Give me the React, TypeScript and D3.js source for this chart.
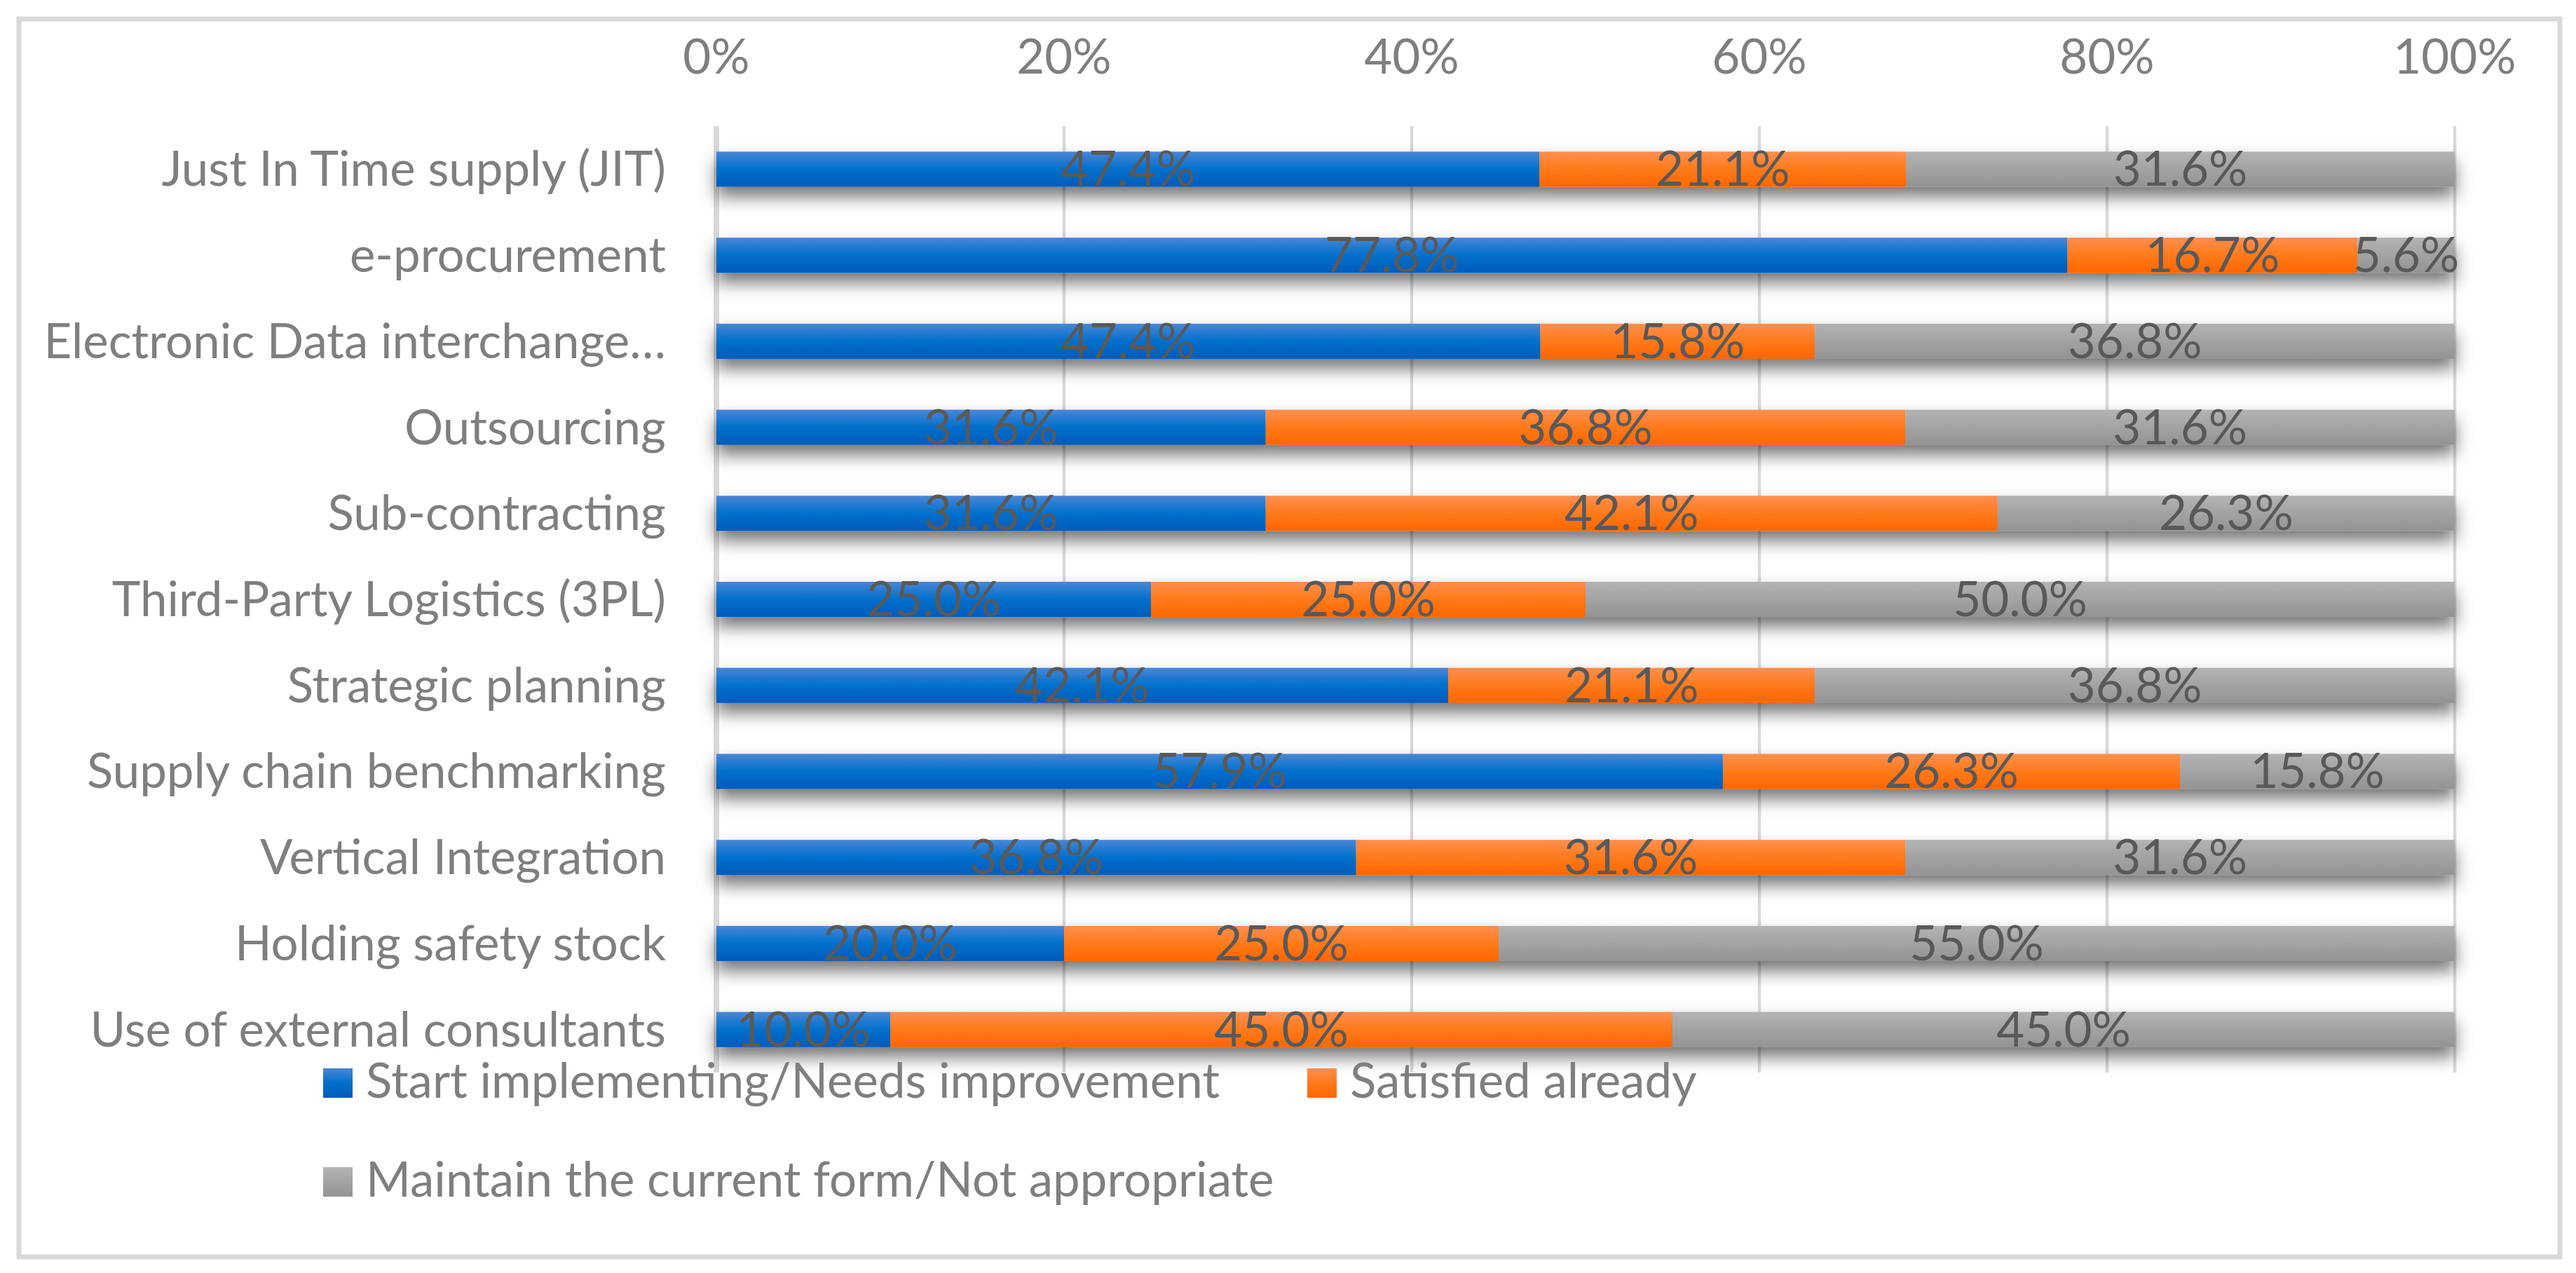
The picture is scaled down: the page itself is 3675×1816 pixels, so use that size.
import React, { useEffect, useRef } from 'react';
import * as d3 from 'd3';

const categories = [
  'Just In Time supply (JIT)',
  'e-procurement',
  'Electronic Data interchange…',
  'Outsourcing',
  'Sub-contracting',
  'Third-Party Logistics (3PL)',
  'Strategic planning',
  'Supply chain benchmarking',
  'Vertical Integration',
  'Holding safety stock',
  'Use of external consultants'
];

const startImplementing = [47.4, 77.8, 47.4, 31.6, 31.6, 25.0, 42.1, 57.9, 36.8, 20.0, 10.0];
const satisfiedAlready = [21.1, 16.7, 15.8, 36.8, 42.1, 25.0, 21.1, 26.3, 31.6, 25.0, 45.0];
const maintainCurrent = [31.6, 5.6, 36.8, 31.6, 26.3, 50.0, 36.8, 15.8, 31.6, 55.0, 45.0];

const seriesNames = [
  'Start implementing/Needs improvement',
  'Satisfied already',
  'Maintain the current form/Not appropriate'
];

const xTicks = [0, 0.2, 0.4, 0.6, 0.8, 1];

const W = 3675;
const H = 1816;
const FONT = 'Lato, "Open Sans", sans-serif';
const FS = 69;

// gradient stops per series: light top, base, darker bottom
const palettes = [
  ['#4a86d6', '#0070cc', '#005bbb'],
  ['#ff8f4f', '#ff7a1a', '#ff6600'],
  ['#b3b3b3', '#a3a3a3', '#939393']
];

const App: React.FC = () => {
  const svgRef = useRef<SVGSVGElement>(null);

  useEffect(() => {
    if (!svgRef.current) return;
    const svg = d3.select(svgRef.current);
    svg.selectAll('*').remove();

    const rows = categories.map((name, i) => ({
      name,
      s0: startImplementing[i],
      s1: satisfiedAlready[i],
      s2: maintainCurrent[i]
    }));

    const stack = d3.stack<any>()
      .keys(['s0', 's1', 's2'])
      .offset(d3.stackOffsetExpand);
    const layers = stack(rows);

    const x = d3.scaleLinear().domain([0, 1]).range([1022, 3502]);
    const y = d3.scaleBand<string>()
      .domain(categories)
      .range([180, 1530])
      .paddingInner(0.592)
      .paddingOuter(0.296);

    const defs = svg.append('defs');
    palettes.forEach((p, i) => {
      const g = defs.append('linearGradient')
        .attr('id', `grad-${i}`)
        .attr('x1', 0).attr('x2', 0).attr('y1', 0).attr('y2', 1);
      g.append('stop').attr('offset', '0%').attr('stop-color', p[0]);
      g.append('stop').attr('offset', '50%').attr('stop-color', p[1]);
      g.append('stop').attr('offset', '100%').attr('stop-color', p[2]);
    });

    const shadow = defs.append('filter')
      .attr('id', 'bar-shadow')
      .attr('x', '-5%').attr('y', '-60%')
      .attr('width', '110%').attr('height', '220%');
    shadow.append('feDropShadow')
      .attr('dx', 0)
      .attr('dy', 14)
      .attr('stdDeviation', 12)
      .attr('flood-color', '#000')
      .attr('flood-opacity', 0.55);

    svg.append('rect')
      .attr('width', W).attr('height', H).attr('fill', '#fff');

    svg.append('rect')
      .attr('x', 27).attr('y', 27)
      .attr('width', 3625).attr('height', 1766)
      .attr('fill', '#fff')
      .attr('stroke', '#d9d9d9')
      .attr('stroke-width', 7);

    // gridlines
    svg.append('g')
      .selectAll('line')
      .data(xTicks.slice(1))
      .join('line')
      .attr('x1', d => x(d)).attr('x2', d => x(d))
      .attr('y1', 180).attr('y2', 1530)
      .attr('stroke', '#d9d9d9')
      .attr('stroke-width', 4.5);

    svg.append('line')
      .attr('x1', x(0)).attr('x2', x(0))
      .attr('y1', 180).attr('y2', 1530)
      .attr('stroke', '#d9d9d9')
      .attr('stroke-width', 8);

    // tick labels on top
    svg.append('g')
      .selectAll('text')
      .data(xTicks)
      .join('text')
      .attr('x', d => x(d))
      .attr('y', 105)
      .attr('text-anchor', 'middle')
      .attr('font-family', FONT)
      .attr('font-size', FS)
      .attr('fill', '#7f7f7f')
      .text(d => d3.format('.0%')(d));

    // bars
    const barsG = svg.append('g').attr('filter', 'url(#bar-shadow)');
    layers.forEach((layer, li) => {
      barsG.append('g')
        .selectAll('rect')
        .data(layer)
        .join('rect')
        .attr('x', d => x(d[0]))
        .attr('y', d => y(d.data.name)!)
        .attr('width', d => x(d[1]) - x(d[0]))
        .attr('height', y.bandwidth())
        .attr('fill', `url(#grad-${li})`);
    });

    // data labels
    const raw = [startImplementing, satisfiedAlready, maintainCurrent];
    layers.forEach((layer, li) => {
      svg.append('g')
        .selectAll('text')
        .data(layer)
        .join('text')
        .attr('x', d => x((d[0] + d[1]) / 2))
        .attr('y', d => y(d.data.name)! + y.bandwidth() / 2 + 24)
        .attr('text-anchor', 'middle')
        .attr('font-family', FONT)
        .attr('font-size', FS)
        .attr('fill', '#595959')
        .text((d, i) => `${raw[li][i].toFixed(1)}%`);
    });

    // category labels
    svg.append('g')
      .selectAll('text')
      .data(categories)
      .join('text')
      .attr('x', 950)
      .attr('y', d => y(d)! + y.bandwidth() / 2 + 24)
      .attr('text-anchor', 'end')
      .attr('font-family', FONT)
      .attr('font-size', FS)
      .attr('fill', '#7f7f7f')
      .text(d => d);

    // legend
    const legendItems = [
      { sx: 461, sy: 1524, tx: 522, ty: 1566 },
      { sx: 1865, sy: 1524, tx: 1926, ty: 1566 },
      { sx: 461, sy: 1665, tx: 522, ty: 1707 }
    ];
    const legend = svg.append('g');
    legendItems.forEach((it, i) => {
      legend.append('rect')
        .attr('x', it.sx).attr('y', it.sy)
        .attr('width', 42).attr('height', 42)
        .attr('fill', `url(#grad-${i})`);
      legend.append('text')
        .attr('x', it.tx).attr('y', it.ty)
        .attr('font-family', FONT)
        .attr('font-size', FS)
        .attr('fill', '#7f7f7f')
        .text(seriesNames[i]);
    });
  }, []);

  return (
    <svg
      ref={svgRef}
      width={W}
      height={H}
      style={{ position: 'absolute', top: 0, left: 0, display: 'block' }}
    />
  );
};

export default App;
